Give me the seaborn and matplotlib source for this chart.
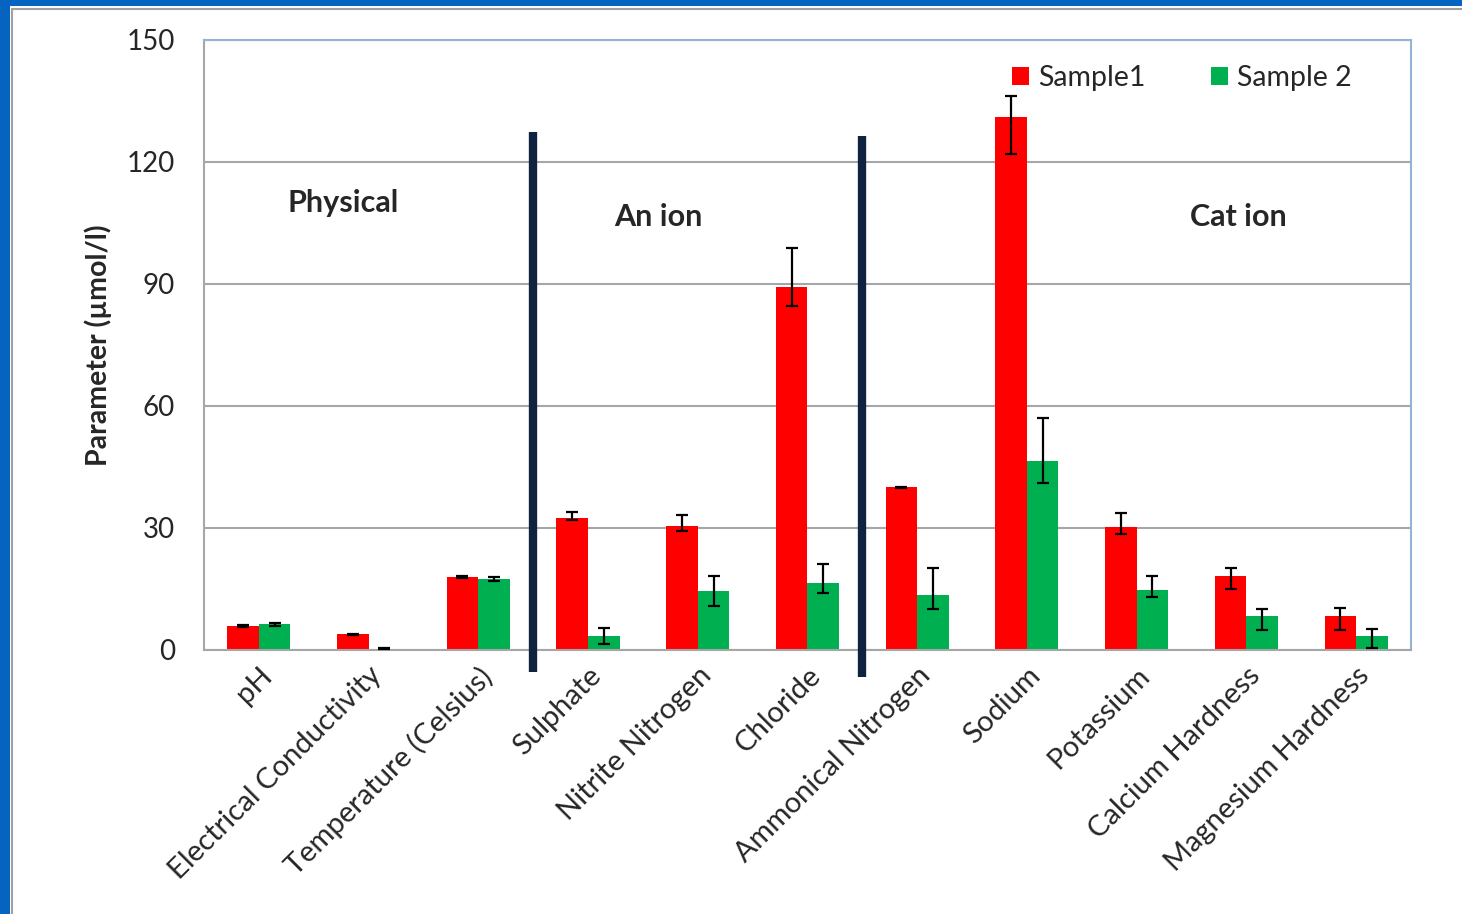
import pandas as pd
import seaborn as sns
import matplotlib.pyplot as plt
import numpy as np
from matplotlib.patches import Patch, Rectangle
from matplotlib.lines import Line2D

# values
categories = ['pH', 'Electrical Conductivity', 'Temperature (Celsius)', 'Sulphate',
              'Nitrite Nitrogen', 'Chloride', 'Ammonical Nitrogen', 'Sodium',
              'Potassium', 'Calcium Hardness', 'Magnesium Hardness']
series_names = ['Sample1', 'Sample 2']
sample1 = [5.9, 3.8, 17.9, 32.4, 30.6, 89.3, 40.0, 131.1, 30.2, 18.3, 8.4]
sample2 = [6.3, 0.3, 17.5, 3.4, 14.5, 16.5, 13.4, 46.5, 14.7, 8.4, 3.4]
# error bars (lower, upper) per bar
sample1_err_lo = [0.2, 0.2, 0.3, 0.4, 1.3, 4.7, 0.1, 9.2, 1.7, 3.3, 3.4]
sample1_err_hi = [0.2, 0.2, 0.3, 1.4, 2.6, 9.5, 0.1, 5.1, 3.5, 1.8, 1.9]
sample2_err_lo = [0.3, 0.1, 0.5, 1.9, 3.7, 2.4, 3.4, 5.4, 1.7, 3.4, 2.9]
sample2_err_hi = [0.3, 0.1, 0.5, 2.0, 3.8, 4.7, 6.7, 10.5, 3.5, 1.6, 1.7]
y_ticks = [0, 30, 60, 90, 120, 150]
groups = ['Physical', 'An ion', 'Cat ion']
group_label_x = [0.77, 3.64, 8.93]
group_label_y = [109.9, 106.5, 106.5]
separators_x = [2.5, 5.5]

colors = ['#FF0000', '#00B050']

df = pd.DataFrame({
    'Parameter': categories * 2,
    'Sample': [series_names[0]] * len(categories) + [series_names[1]] * len(categories),
    'Value': sample1 + sample2,
})

sns.set_style('white')
plt.rcParams['font.family'] = ['Lato', 'DejaVu Sans']

fig = plt.figure(figsize=(14.62, 9.14), dpi=100)
ax = fig.add_axes([0.1395, 0.2889, 0.8256, 0.6674])

sns.barplot(data=df, x='Parameter', y='Value', hue='Sample', palette=colors,
            width=0.575, gap=0, errorbar=None, saturation=1, legend=False,
            linewidth=0, ax=ax)

# asymmetric error bars placed on the bars seaborn drew
errs_lo = sample1_err_lo + sample2_err_lo
errs_hi = sample1_err_hi + sample2_err_hi
for bar, lo, hi in zip(ax.patches, errs_lo, errs_hi):
    xc = bar.get_x() + bar.get_width() / 2
    ax.errorbar(xc, bar.get_height(), yerr=[[lo], [hi]], fmt='none',
                ecolor='black', elinewidth=1.6, capsize=4.2, capthick=1.6, zorder=4)

ax.set_xlim(-0.5, len(categories) - 0.5)
ax.set_ylim(0, 150)
ax.set_yticks(y_ticks)
ax.yaxis.grid(True, color='#A6A6A6', linewidth=1.5)
ax.set_axisbelow(True)

ax.set_xlabel('')
ax.set_ylabel('Parameter (µmol/l)', fontsize=20.5, fontweight='bold')
ax.yaxis.set_label_coords(-0.076, 0.5)
ax.tick_params(axis='y', labelsize=20, length=7, color='#A6A6A6', width=1.5, pad=14, direction='out')
ax.tick_params(axis='x', which='major', length=0, labelsize=21, pad=9)
ax.set_xticks(np.arange(-0.5, len(categories)), minor=True)
ax.tick_params(axis='x', which='minor', length=9, color='#A6A6A6', width=1.5, direction='out')
plt.setp(ax.get_xticklabels(), rotation=45, ha='right', rotation_mode='anchor')

for side in ['left', 'bottom']:
    ax.spines[side].set_color('#A6A6A6')
    ax.spines[side].set_linewidth(1.5)
for side in ['top', 'right']:
    ax.spines[side].set_color('#95B3D7')
    ax.spines[side].set_linewidth(1.5)

# group separators and labels
for sx, (y0, y1) in zip(separators_x, [(-5.4, 127.4), (-6.6, 126.4)]):
    ax.add_line(Line2D([sx, sx], [y0, y1], color='#0F2341', linewidth=6,
                       solid_capstyle='butt', clip_on=False, zorder=5))
for name, gx, gy in zip(groups, group_label_x, group_label_y):
    ax.text(gx, gy, name, fontsize=22, fontweight='bold', ha='center', va='center')

handles = [Patch(facecolor=c, edgecolor='none') for c in colors]
ax.legend(handles, series_names, loc='center', bbox_to_anchor=(0.81, 0.938), ncol=2,
          frameon=False, fontsize=20.5, handlelength=0.62, handleheight=0.62,
          handletextpad=0.3, columnspacing=2.3)

# blue slide frame
fig.patches.append(Rectangle((0, 1 - 6 / 914), 1, 6 / 914, transform=fig.transFigure,
                             facecolor='#0563C1', edgecolor='none', zorder=0))
fig.patches.append(Rectangle((0, 0), 10 / 1462, 1, transform=fig.transFigure,
                             facecolor='#0563C1', edgecolor='none', zorder=0))
fig.lines.append(Line2D([12 / 1462, 1], [1 - 9 / 914] * 2, transform=fig.transFigure,
                        color='#A0A0A0', linewidth=1.5))
fig.lines.append(Line2D([12 / 1462] * 2, [0, 1 - 9 / 914], transform=fig.transFigure,
                        color='#A0A0A0', linewidth=1.5))

fig.savefig('out.png', dpi=100)
